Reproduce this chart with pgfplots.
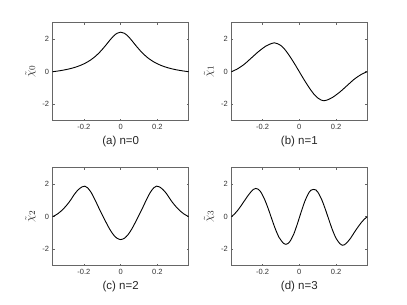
\documentclass[border=0pt]{standalone}
\usepackage{fontspec}
\setmainfont{Liberation Sans}
\usepackage{pgfplots}
\pgfplotsset{compat=1.18}
\pgfplotsset{panel/.style={
  scale only axis, width=136pt, height=98pt,
  xmin=-0.37, xmax=0.37, ymin=-3, ymax=3,
  xtick={-0.2,0,0.2}, ytick={-2,0,2},
  tick align=inside, major tick length=2pt,
  axis line style={black!60, line width=0.6pt},
  every tick/.style={black!60, line width=0.5pt},
  tick label style={font=\fontsize{7.5}{8}\selectfont, text=black!80},
  /pgf/number format/assume math mode=true,
  xticklabel style={/pgf/number format/fixed},
  xlabel style={font=\fontsize{11.5}{13}\selectfont, text=black!85},
  ylabel style={font=\fontsize{13}{14}\selectfont, text=black!85},
  anchor=north west,
  cycle list={{black, line width=0.9pt, smooth, no marks}},
}}
\begin{document}
\begin{tikzpicture}
\path[use as bounding box] (0,0) rectangle (407pt,-305pt);

\begin{axis}[panel, at={(52.7pt,-22.7pt)}, xlabel={(a) n=0}, ylabel={$\tilde{\chi}_0$}]
\addplot[black, line width=0.9pt, smooth, no marks] coordinates {
(-0.37,0.0) (-0.36,0.014) (-0.34,0.045) (-0.32,0.081) (-0.30,0.123) (-0.28,0.172)
(-0.26,0.230) (-0.24,0.299) (-0.22,0.382) (-0.20,0.481) (-0.18,0.601) (-0.16,0.746)
(-0.14,0.920) (-0.12,1.127) (-0.10,1.368) (-0.08,1.636) (-0.06,1.915) (-0.04,2.170)
(-0.02,2.353) (0,2.42)
(0.02,2.353) (0.04,2.170) (0.06,1.915) (0.08,1.636) (0.10,1.368) (0.12,1.127)
(0.14,0.920) (0.16,0.746) (0.18,0.601) (0.20,0.481) (0.22,0.382) (0.24,0.299)
(0.26,0.230) (0.28,0.172) (0.30,0.123) (0.32,0.081) (0.34,0.045) (0.36,0.014) (0.37,0.0)
};
\end{axis}

\begin{axis}[panel, at={(231.3pt,-22.7pt)}, xlabel={(b) n=1}, ylabel={$\tilde{\chi}_1$}]
\addplot[black, line width=0.9pt, smooth, no marks] coordinates {
(-0.37,0) (-0.34,0.15) (-0.30,0.45) (-0.26,0.85) (-0.22,1.25) (-0.18,1.58)
(-0.15,1.73) (-0.136,1.77) (-0.12,1.72) (-0.10,1.60) (-0.08,1.38) (-0.06,1.08)
(-0.04,0.74) (-0.02,0.38) (0,0)
(0.02,-0.38) (0.04,-0.74) (0.06,-1.08) (0.08,-1.38) (0.10,-1.60) (0.12,-1.74)
(0.134,-1.78) (0.15,-1.74) (0.18,-1.58) (0.22,-1.25) (0.26,-0.85) (0.30,-0.45)
(0.34,-0.15) (0.37,0)
};
\end{axis}

\begin{axis}[panel, at={(52.7pt,-167.7pt)}, xlabel={(c) n=2}, ylabel={$\tilde{\chi}_2$}]
\addplot[black, line width=0.9pt, smooth, no marks] coordinates {
(-0.37,0.0) (-0.34,0.20) (-0.31,0.50) (-0.28,0.90) (-0.25,1.40) (-0.23,1.66)
(-0.21,1.83) (-0.195,1.87) (-0.18,1.77) (-0.16,1.47) (-0.14,1.04) (-0.12,0.56)
(-0.10,0.10) (-0.08,-0.34) (-0.06,-0.76) (-0.04,-1.10) (-0.02,-1.32) (0,-1.40)
(0.02,-1.32) (0.04,-1.10) (0.06,-0.76) (0.08,-0.34) (0.10,0.10) (0.12,0.56)
(0.14,1.04) (0.16,1.47) (0.18,1.77) (0.195,1.87) (0.21,1.83) (0.23,1.66)
(0.25,1.40) (0.28,0.90) (0.31,0.50) (0.34,0.20) (0.37,0.0)
};
\end{axis}

\begin{axis}[panel, at={(231.3pt,-167.7pt)}, xlabel={(d) n=3}, ylabel={$\tilde{\chi}_3$}]
\addplot[black, line width=0.9pt, smooth, no marks] coordinates {
(-0.37,0) (-0.355,0.14) (-0.34,0.32) (-0.32,0.62) (-0.30,0.95) (-0.28,1.28)
(-0.26,1.56) (-0.25,1.67) (-0.237,1.73) (-0.225,1.69) (-0.21,1.52) (-0.19,1.09)
(-0.17,0.52) (-0.15,-0.13) (-0.13,-0.76) (-0.11,-1.27) (-0.09,-1.58) (-0.082,-1.66)
(-0.072,-1.69) (-0.06,-1.63) (-0.05,-1.50) (-0.03,-1.06) (-0.01,-0.42)
(0.01,0.28) (0.03,0.94) (0.05,1.43) (0.063,1.62) (0.076,1.67) (0.09,1.64)
(0.10,1.52) (0.12,1.10) (0.14,0.51) (0.16,-0.15) (0.18,-0.80) (0.20,-1.32)
(0.22,-1.64) (0.235,-1.75) (0.245,-1.72) (0.26,-1.58) (0.28,-1.30) (0.30,-0.95)
(0.32,-0.62) (0.34,-0.32) (0.355,-0.14) (0.37,0)
};
\end{axis}
\end{tikzpicture}
\end{document}
